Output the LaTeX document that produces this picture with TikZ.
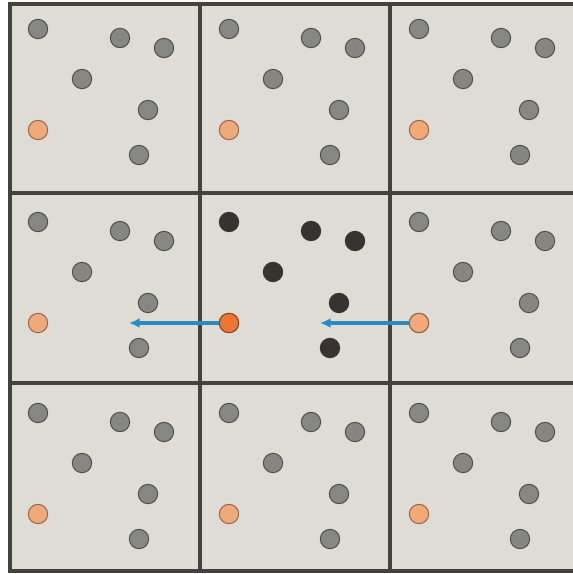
\documentclass[tikz,border=0pt]{standalone}
\usetikzlibrary{arrows.meta}
\definecolor{bgc}{RGB}{222,220,213}
\definecolor{framec}{RGB}{68,66,62}
\definecolor{greyp}{RGB}{134,134,131}
\definecolor{greyo}{RGB}{78,78,76}
\definecolor{orfill}{RGB}{240,170,122}
\definecolor{orline}{RGB}{150,100,70}
\definecolor{orbright}{RGB}{238,118,48}
\definecolor{orbline}{RGB}{140,70,30}
\definecolor{darkp}{RGB}{54,51,48}
\definecolor{arrc}{RGB}{38,140,200}
\tikzset{
  part/.style={circle,inner sep=0pt,minimum size=14.5pt,line width=0.75pt},
  greypart/.style={part,fill=greyp,draw=greyo},
  fadeor/.style={part,fill=orfill,draw=orline},
  darkpart/.style={part,fill=darkp,draw=darkp},
  brightor/.style={part,fill=orbright,draw=orbline},
  frameline/.style={draw=framec,line width=2.3pt},
  migr/.style={draw=arrc,line width=2.3pt,-{Latex[length=8pt,width=7.5pt]}}
}
\begin{document}
\begin{tikzpicture}[x=0.75pt,y=-0.75pt]
\useasboundingbox (0,0) rectangle (573,574);
\clip (0,0) rectangle (573,574);
\fill[white] (0,0) rectangle (573,574);
\fill[bgc] (10,4) rectangle (581,571);
% grid frame
\draw[frameline] (10,4) rectangle (581,571);
\draw[frameline] (200,4) -- (200,571);
\draw[frameline] (390,4) -- (390,571);
\draw[frameline] (10,193) -- (581,193);
\draw[frameline] (10,383) -- (581,383);
% particles
\foreach \ci/\dx in {0/0,1/191,2/381}{
  \foreach \rj/\dy in {0/0,1/193,2/384}{
    \ifnum\ci=1 \ifnum\rj=1
      \def\ps{darkpart}\def\os{brightor}
    \else
      \def\ps{greypart}\def\os{fadeor}
    \fi\else
      \def\ps{greypart}\def\os{fadeor}
    \fi
    \foreach \k/\px/\py in {a/38/29,b/120/38,c/164/48,d/82/79,e/148/110,f/139/155}{
      \node[\ps] (p-\ci-\rj-\k) at (\px+\dx,\py+\dy) {};
    }
    \node[\os] (o-\ci-\rj) at (38+\dx,130+\dy) {};
  }
}
% migration arrows
\coordinate (t1) at (129,323);
\coordinate (t2) at (320,323);
\draw[migr] (o-1-1) -- (t1);
\draw[migr] (o-2-1) -- (t2);
\node[brightor] at (o-1-1) {};
\node[fadeor] at (o-2-1) {};
\end{tikzpicture}
\end{document}
